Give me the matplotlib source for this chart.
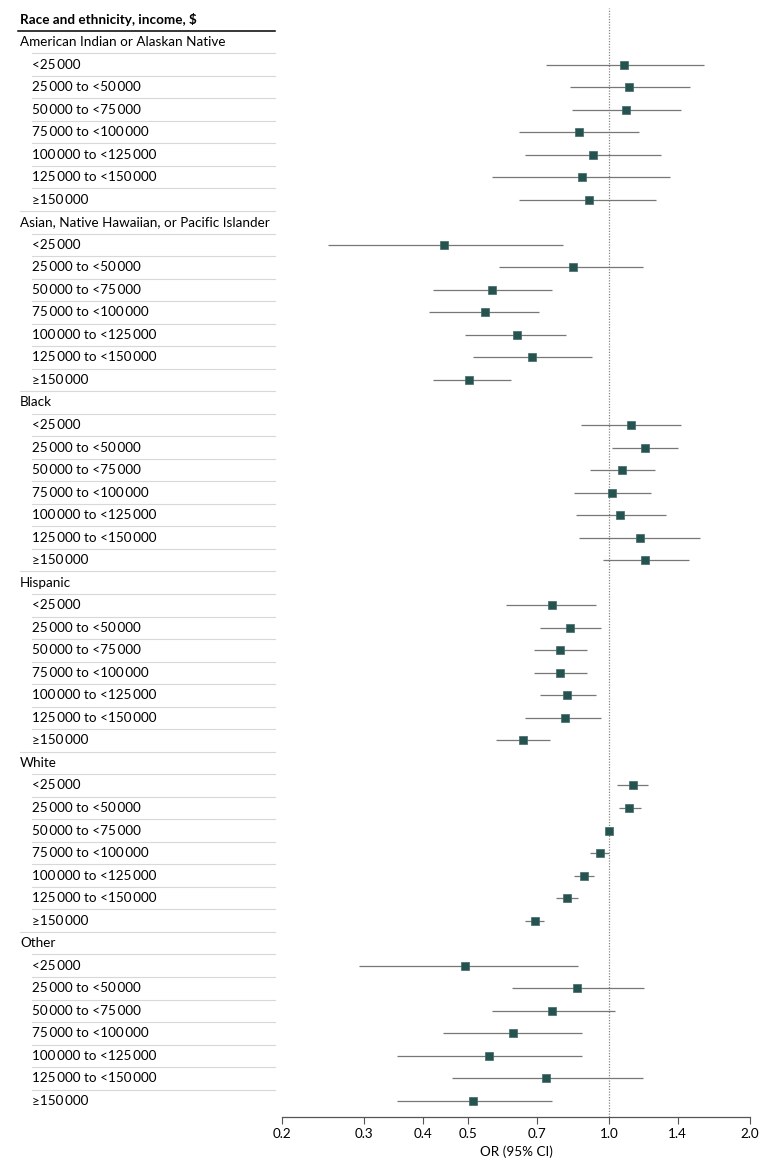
import matplotlib
matplotlib.use('Agg')
import matplotlib.pyplot as plt
import matplotlib.transforms as mtransforms
from matplotlib.ticker import NullLocator

plt.rcParams['font.family'] = ['Lato', 'DejaVu Sans']

# ---------------- data ----------------
header = "Race and ethnicity, income, $"
groups = ["American Indian or Alaskan Native",
          "Asian, Native Hawaiian, or Pacific Islander",
          "Black", "Hispanic", "White", "Other"]
T = "\u2009"
incomes = ["<25" + T + "000",
           "25" + T + "000 to <50" + T + "000",
           "50" + T + "000 to <75" + T + "000",
           "75" + T + "000 to <100" + T + "000",
           "100" + T + "000 to <125" + T + "000",
           "125" + T + "000 to <150" + T + "000",
           "\u2265150" + T + "000"]

or_aian = [1.076, 1.105, 1.085, 0.864, 0.923, 0.874, 0.904]
lo_aian = [0.732, 0.824, 0.833, 0.641, 0.661, 0.561, 0.642]
hi_aian = [1.595, 1.491, 1.422, 1.160, 1.289, 1.351, 1.258]

or_asian = [0.443, 0.836, 0.563, 0.544, 0.635, 0.684, 0.503]
lo_asian = [0.251, 0.583, 0.421, 0.412, 0.491, 0.512, 0.421]
hi_asian = [0.797, 1.180, 0.756, 0.707, 0.808, 0.918, 0.616]

or_black = [1.115, 1.195, 1.064, 1.015, 1.055, 1.164, 1.195]
lo_black = [0.872, 1.015, 0.912, 0.841, 0.851, 0.862, 0.972]
hi_black = [1.422, 1.401, 1.251, 1.231, 1.321, 1.564, 1.479]

or_hisp = [0.754, 0.825, 0.784, 0.785, 0.814, 0.804, 0.654]
lo_hisp = [0.603, 0.712, 0.691, 0.691, 0.712, 0.661, 0.573]
hi_hisp = [0.936, 0.959, 0.897, 0.897, 0.938, 0.959, 0.747]

or_white = [1.125, 1.105, 1.000, 0.955, 0.884, 0.813, 0.694]
lo_white = [1.041, 1.052, 1.000, 0.912, 0.843, 0.771, 0.662]
hi_white = [1.209, 1.170, 1.000, 1.001, 0.927, 0.858, 0.726]

or_other = [0.493, 0.854, 0.754, 0.624, 0.554, 0.733, 0.513]
lo_other = [0.292, 0.621, 0.562, 0.441, 0.352, 0.462, 0.352]
hi_other = [0.857, 1.189, 1.028, 0.877, 0.877, 1.180, 0.756]

or_est = [or_aian, or_asian, or_black, or_hisp, or_white, or_other]
ci_low = [lo_aian, lo_asian, lo_black, lo_hisp, lo_white, lo_other]
ci_high = [hi_aian, hi_asian, hi_black, hi_hisp, hi_white, hi_other]

xticks = [0.2, 0.3, 0.4, 0.5, 0.7, 1.0, 1.4, 2.0]
xtick_labels = ["0.2", "0.3", "0.4", "0.5", "0.7", "1.0", "1.4", "2.0"]
xlabel = "OR (95% CI)"

# ---------------- figure ----------------
W, H = 780, 1169
fig = plt.figure(figsize=(W / 100, H / 100), dpi=100)
ax_top_px, ax_bot_px = 8, 1117
ax = fig.add_axes([282 / W, 1 - ax_bot_px / H, 468 / W, (ax_bot_px - ax_top_px) / H])
ax.set_xscale('log')
ax.set_xlim(0.2, 2.0)
row0_px, row_h = 42, 22.53
ax.set_ylim((ax_bot_px - row0_px) / row_h, (ax_top_px - row0_px) / row_h)

trans = mtransforms.blended_transform_factory(fig.transFigure, ax.transData)

marker_col = '#26534f'
line_col = '#777777'
sep_col = '#d8d8d8'
fs = 9.7

ax.axvline(1.0, color='#888888', lw=0.9, ls=(0, (1, 1.2)), zorder=1)

ax.text(20 / W, -1.02, header, transform=trans, ha='left', va='center',
        fontsize=fs, fontweight='bold')
ax.plot([18 / W, 275 / W], [-0.5, -0.5], transform=trans, clip_on=False,
        color='black', lw=1.1)

n_groups = len(groups)
for gi, g in enumerate(groups):
    base = gi * 8
    ax.text(20 / W, base, g, transform=trans, ha='left', va='center', fontsize=fs)
    ax.plot([32 / W, 275 / W], [base + 0.5, base + 0.5], transform=trans,
            clip_on=False, color=sep_col, lw=0.8)
    for j, inc in enumerate(incomes):
        y = base + 1 + j
        ax.text(32 / W, y, inc, transform=trans, ha='left', va='center', fontsize=fs)
        last = (j == len(incomes) - 1)
        if not (last and gi == n_groups - 1):
            x0 = 20 / W if last else 32 / W
            ax.plot([x0, 275 / W], [y + 0.5, y + 0.5], transform=trans,
                    clip_on=False, color=sep_col, lw=0.8)
        ax.plot([ci_low[gi][j], ci_high[gi][j]], [y, y], color=line_col,
                lw=0.9, zorder=2, solid_capstyle='butt')
        ax.plot([or_est[gi][j]], [y], marker='s', ms=6.2, mfc=marker_col,
                mec='#3d6b67', mew=0.5, zorder=3, ls='none')

for s in ['top', 'left', 'right']:
    ax.spines[s].set_visible(False)
ax.spines['bottom'].set_color('#555555')
ax.spines['bottom'].set_linewidth(0.9)
ax.set_yticks([])
ax.set_xticks(xticks)
ax.set_xticklabels(xtick_labels)
ax.xaxis.set_minor_locator(NullLocator())
ax.tick_params(axis='x', length=5, width=0.8, color='#555555', labelsize=fs, pad=3)
ax.set_xlabel(xlabel, fontsize=fs, labelpad=4)

fig.savefig('out.png', dpi=100)
